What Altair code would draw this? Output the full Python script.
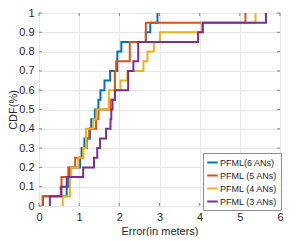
import altair as alt
import pandas as pd

series_names = ["PFML(6 ANs)", "PFML (5 ANs)", "PFML (4 ANs)", "PFML (3 ANs)"]
colors = ["#0072BD", "#D95319", "#EDB120", "#7E2F8E"]

err_6 = [0.10, 0.69, 0.73, 0.77, 1.02, 1.06, 1.13, 1.27, 1.30, 1.39,
         1.48, 1.53, 1.63, 1.77, 1.95, 1.95, 2.05, 2.66, 2.77, 2.95]
err_5 = [0.09, 0.54, 0.56, 0.73, 0.90, 1.10, 1.19, 1.25, 1.42, 1.48,
         1.78, 1.89, 1.89, 1.89, 1.92, 2.26, 2.26, 2.66, 2.66, 5.14]
err_4 = [0.59, 0.77, 0.77, 0.80, 0.98, 1.10, 1.17, 1.17, 1.35, 1.43,
         1.74, 1.74, 2.03, 2.20, 2.60, 2.70, 2.86, 3.01, 4.05, 5.39]
err_3 = [0.27, 0.56, 0.69, 1.10, 1.37, 1.45, 1.52, 1.67, 1.78, 1.80,
         1.83, 1.89, 2.22, 2.22, 2.35, 2.47, 2.47, 3.96, 4.08, 5.65]

x_ticks = [0, 1, 2, 3, 4, 5, 6]
y_ticks = [0, 0.1, 0.2, 0.3, 0.4, 0.5, 0.6, 0.7, 0.8, 0.9, 1.0]

rows = []
for name, vals in zip(series_names, [err_6, err_5, err_4, err_3]):
    n = len(vals)
    rows.append({"series": name, "err": vals[0], "cdf": 0.0, "k": 0})
    for i, v in enumerate(vals):
        rows.append({"series": name, "err": v, "cdf": (i + 1) / n, "k": i + 1})
df = pd.DataFrame(rows)

W, H = 241, 193
XT = "Error(in meters)"
YT = "CDF(%)"
TXT = "#262626"
font = "Liberation Sans"

xscale = alt.Scale(domain=[0, 6], nice=False)
yscale = alt.Scale(domain=[0, 1], nice=False)

xaxis = alt.Axis(values=x_ticks, format="~g", labelOverlap=False, labelFlush=False,
                 grid=True, gridColor="#e6e6e6", domain=False, ticks=False,
                 labelFont=font, labelFontSize=11, labelColor=TXT,
                 labelPadding=5, titleFont=font, titleFontSize=11,
                 titleFontWeight="normal", titleColor=TXT, titlePadding=3)
yaxis = alt.Axis(values=y_ticks, format="~g", labelOverlap=False, labelFlush=False,
                 grid=True, gridColor="#e6e6e6", domain=False, ticks=False,
                 labelFont=font, labelFontSize=11, labelColor=TXT,
                 labelPadding=5, titleFont=font, titleFontSize=11,
                 titleFontWeight="normal", titleColor=TXT, titlePadding=0)

lines = alt.Chart(df).mark_line(interpolate="step-after", strokeWidth=2).encode(
    x=alt.X("err:Q", scale=xscale, title=XT, axis=xaxis),
    y=alt.Y("cdf:Q", scale=yscale, title=YT, axis=yaxis),
    color=alt.Color("series:N", scale=alt.Scale(domain=series_names, range=colors),
                    legend=alt.Legend(title=None, orient="none", legendX=164, legendY=140,
                                      symbolType="stroke", symbolStrokeWidth=2, symbolSize=110,
                                      labelFont=font, labelFontSize=9,
                                      labelColor=TXT, rowPadding=1, labelOffset=1,
                                      padding=3, strokeColor="#8c8c8c", fillColor="white",
                                      symbolOffset=0)),
    order=alt.Order("k:Q"),
    detail="series:N",
)

xt = pd.DataFrame({"err": x_ticks})
yt = pd.DataFrame({"cdf": y_ticks})
tick_color = "#555555"
xt_bottom = alt.Chart(xt).mark_tick(size=3, thickness=1, color=tick_color, orient="vertical").encode(
    x=alt.X("err:Q", scale=xscale, title=XT, axis=xaxis), y=alt.value(H - 1.5))
xt_top = alt.Chart(xt).mark_tick(size=3, thickness=1, color=tick_color, orient="vertical").encode(
    x=alt.X("err:Q", scale=xscale, title=XT, axis=xaxis), y=alt.value(1.5))
yt_left = alt.Chart(yt).mark_tick(size=3, thickness=1, color=tick_color, orient="horizontal").encode(
    y=alt.Y("cdf:Q", scale=yscale, title=YT, axis=yaxis), x=alt.value(1.5))
yt_right = alt.Chart(yt).mark_tick(size=3, thickness=1, color=tick_color, orient="horizontal").encode(
    y=alt.Y("cdf:Q", scale=yscale, title=YT, axis=yaxis), x=alt.value(W - 1.5))

chart = alt.layer(xt_bottom, xt_top, yt_left, yt_right, lines).properties(
    width=W, height=H,
    padding={"left": 31, "top": 5, "right": 10, "bottom": 30},
    autosize=alt.AutoSizeParams(type="none"),
).configure_view(stroke="#8c8c8c", strokeWidth=1)

chart.save("out.html", embed_options={"renderer": "svg", "actions": False})
